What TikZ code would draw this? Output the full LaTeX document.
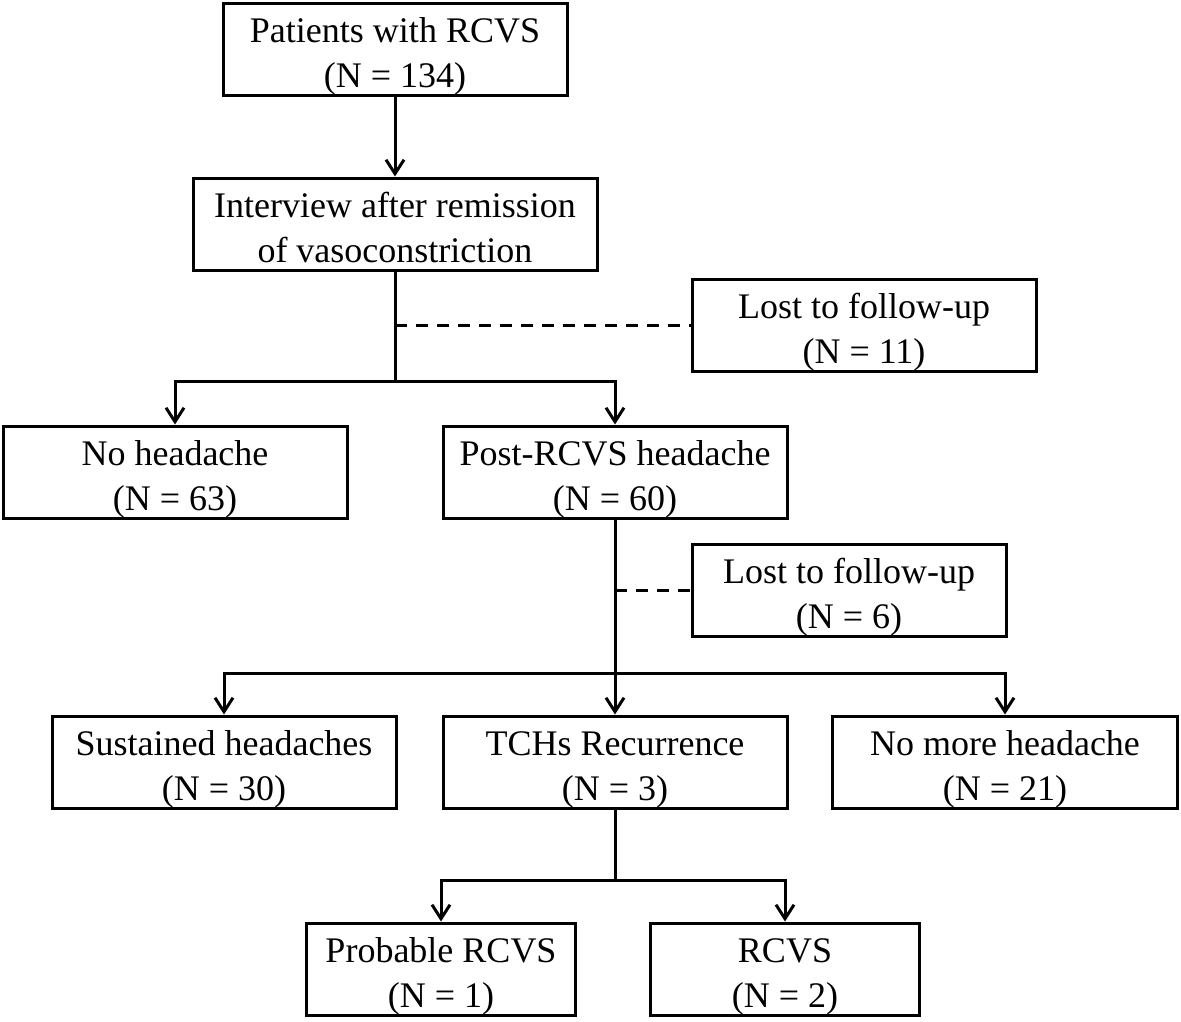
\documentclass[tikz,border=0pt]{standalone}
\usepackage{fontspec}
\setmainfont{Liberation Serif}
\usetikzlibrary{arrows.meta}
\newcommand{\twolines}[2]{\rule{0pt}{39pt}#1\\#2\rule[-8pt]{0pt}{8pt}}
\begin{document}
\begin{tikzpicture}[x=1pt,y=-1pt,
  box/.style={draw,line width=3pt,inner sep=0pt,align=center,
    font=\fontsize{36}{45}\selectfont,minimum height=92pt},
  conn/.style={line width=3pt},
  arr/.style={conn,-{Straight Barb[length=14pt,width=18pt]}},
  dashlink/.style={line width=3pt,dash pattern=on 12pt off 9pt}]
\useasboundingbox (0,0) rectangle (1181,1021);
% nodes
\node[box,minimum width=344pt] (b1) at (395,49) {\twolines{Patients with RCVS}{(N = 134)}};
\node[box,minimum width=404pt] (b2) at (395,224) {\twolines{Interview after remission}{of vasoconstriction}};
\node[box,minimum width=344pt] (lost1) at (864,325) {\twolines{Lost to follow-up}{(N = 11)}};
\node[box,minimum width=344pt] (nohead) at (175,472) {\twolines{No headache}{(N = 63)}};
\node[box,minimum width=344pt] (post) at (615,472) {\twolines{Post-RCVS headache}{(N = 60)}};
\node[box,minimum width=314pt] (lost2) at (849,590) {\twolines{Lost to follow-up}{(N = 6)}};
\node[box,minimum width=344pt] (sust) at (224,762) {\twolines{Sustained headaches}{(N = 30)}};
\node[box,minimum width=344pt] (tch) at (615,762) {\twolines{TCHs Recurrence}{(N = 3)}};
\node[box,minimum width=345pt] (nomore) at (1005,762) {\twolines{No more headache}{(N = 21)}};
\node[box,minimum width=269pt] (prob) at (441,969) {\twolines{Probable RCVS}{(N = 1)}};
\node[box,minimum width=269pt] (rcvs) at (785,969) {\twolines{RCVS}{(N = 2)}};
% junctions
\coordinate (j1) at (395,381);
\coordinate (j2) at (615,673);
\coordinate (j3) at (615,880);
% connectors
\draw[arr] (b1.south) -- (b2.north);
\draw[conn] (b2.south) -- (j1);
\draw[dashlink] (b2.south |- lost1.west) -- (lost1.west);
\draw[arr] (j1) -| (nohead.north);
\draw[arr] (j1) -| (post.north);
\draw[conn] (post.south) -- (j2);
\draw[dashlink] (post.south |- lost2.west) -- (lost2.west);
\draw[arr] (j2) -| (sust.north);
\draw[arr] (j2) -- (tch.north);
\draw[arr] (j2) -| (nomore.north);
\draw[conn] (tch.south) -- (j3);
\draw[arr] (j3) -| (prob.north);
\draw[arr] (j3) -| (rcvs.north);
\end{tikzpicture}
\end{document}
